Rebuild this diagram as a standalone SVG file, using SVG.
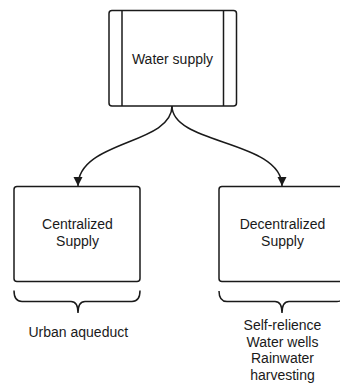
<svg xmlns="http://www.w3.org/2000/svg" width="340" height="385" viewBox="0 0 340 385">
<style>
.box{fill:#fff;stroke:#1a1a1a;stroke-width:1.5}
.ln{fill:none;stroke:#1a1a1a;stroke-width:1.5}
.t{font-family:"Liberation Sans",Arial,sans-serif;font-size:14px;fill:#1a1a1a;text-anchor:middle}
</style>
<defs>
<marker id="arr" markerWidth="10" markerHeight="10" refX="9" refY="5" orient="auto" markerUnits="userSpaceOnUse">
<path d="M0,0.5 L9,5 L0,9.5 Z" fill="#1a1a1a"/>
</marker>
</defs>
<rect width="340" height="385" fill="#fff"/>
<g id="connectors">
<path class="ln" d="M172,106 C172,145 78,140 78,186" marker-end="url(#arr)"/>
<path class="ln" d="M172,106 C172,145 282,140 282,186" marker-end="url(#arr)"/>
</g>
<g id="water-supply">
<rect class="box" x="109" y="10.5" width="127.5" height="95.5" rx="3"/>
<line class="ln" x1="122" y1="10.5" x2="122" y2="106"/>
<line class="ln" x1="223.5" y1="10.5" x2="223.5" y2="106"/>
<text class="t" x="172.5" y="63.5">Water supply</text>
</g>
<g id="centralized">
<rect class="box" x="14" y="186.5" width="126" height="95" rx="3"/>
<text class="t" x="77.5" y="229.3">Centralized</text>
<text class="t" x="77.5" y="245.7">Supply</text>
</g>
<g id="decentralized">
<rect class="box" x="219" y="186.5" width="126" height="95" rx="3"/>
<text class="t" x="282.5" y="229.3">Decentralized</text>
<text class="t" x="282.5" y="245.7">Supply</text>
</g>
<g id="brace-left">
<path class="ln" d="M14,290.5 Q14,301.5 22,301.5 L71,301.5 Q78,301.5 78,313 Q78,301.5 85,301.5 L132,301.5 Q140,301.5 140,290.5"/>
<text class="t" x="78.3" y="336.7">Urban aqueduct</text>
</g>
<g id="brace-right">
<path class="ln" d="M219,291 Q219,301.5 227,301.5 L275,301.5 Q282,301.5 282,313 Q282,301.5 289,301.5 L337,301.5 Q345,301.5 345,291"/>
<text class="t" x="282.5" y="330">Self-relience</text>
<text class="t" x="282.5" y="346.7">Water wells</text>
<text class="t" x="282.5" y="363.3">Rainwater</text>
<text class="t" x="282.5" y="380">harvesting</text>
</g>
</svg>
